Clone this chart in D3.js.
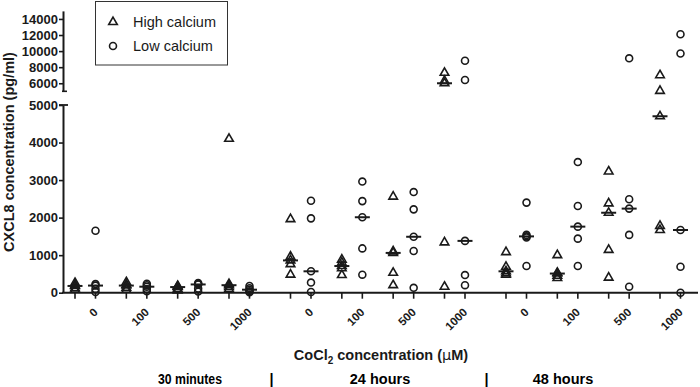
<!DOCTYPE html>
<html>
<head>
<meta charset="utf-8">
<script src="https://cdn.jsdelivr.net/npm/d3@7"></script>
<style>
  body { margin: 0; background: #fff; }
  svg { display: block; font-family: "Liberation Sans", Arial, sans-serif; }
</style>
</head>
<body>
<div id="chart"></div>
<script>
// categories
const groups = ["30 minutes", "24 hours", "48 hours"];
const concentrations = ["0", "100", "500", "1000"];
const calcium = ["High calcium", "Low calcium"];

// CXCL8 (pg/ml), one array per concentration (0, 100, 500, 1000)
const high30m = [[260, 200, 180, 120, 80], [280, 210, 190, 130, 80], [180, 160, 150, 100, 60], [4100, 230, 200, 150, 100]];
const low30m = [[1650, 230, 190, 100, 20], [240, 200, 160, 100, 40], [260, 230, 220, 110, 30], [180, 120, 80, 40, 10]];
const high24h = [[1960, 960, 860, 760, 480], [880, 800, 710, 650, 470], [2560, 1100, 1060, 530, 200], [7300, 6300, 6000, 1340, 160]];
const low24h = [[2450, 1980, 570, 270, 20], [2960, 2440, 2010, 1180, 480], [2680, 2220, 1490, 1110, 130], [8800, 6400, 1380, 470, 200]];
const high48h = [[1080, 690, 570, 520, 480], [1000, 530, 510, 450, 390], [3230, 2380, 2130, 1140, 400], [7000, 5050, 4700, 1780, 1670]];
const low48h = [[2400, 1540, 1500, 1470, 710], [3480, 2310, 1760, 1440, 710], [9100, 2490, 2240, 1540, 160], [12100, 9700, 1670, 690, 0]];

const lowerTicks = [0, 1000, 2000, 3000, 4000, 5000];
const upperTicks = [6000, 8000, 10000, 12000, 14000];

const series = {
  "30 minutes": { "High calcium": high30m, "Low calcium": low30m },
  "24 hours": { "High calcium": high24h, "Low calcium": low24h },
  "48 hours": { "High calcium": high48h, "Low calcium": low48h }
};

// flatten into columns
const columns = [];
groups.forEach(g => concentrations.forEach((c, ci) => calcium.forEach(k => {
  columns.push({ group: g, conc: c, cal: k, values: series[g][k][ci] });
})));

const width = 700;
const height = 387;
const marginLeft = 63;
const axisRight = 698;

// nested point scales for the columns
const xGroup = d3.scalePoint(groups, [75, 506]);
const xConc = d3.scalePoint(concentrations, [0, 154]);
const xCal = d3.scalePoint(calcium, [0, 20.5]);
const x = d => xGroup(d.group) + xConc(d.conc) + xCal(d.cal);

// broken y axis: two segments
const yLow = d3.scaleLinear([0, 5000], [292.7, 105]);
const yHigh = d3.scaleLinear([5000, 15000], [91.3, 10.9]);
const y = v => v > 5000 ? yHigh(v) : yLow(v);

const svg = d3.select("#chart").append("svg")
  .attr("width", width)
  .attr("height", height);

const ink = "#1a1a1a";

// y axis segments
function yAxis(scale, ticks) {
  const g = svg.append("g")
    .attr("transform", `translate(${marginLeft},0)`)
    .call(d3.axisLeft(scale).tickValues(ticks).tickSize(4).tickSizeOuter(0).tickPadding(1).tickFormat(d3.format("d")));
  g.select(".domain").attr("stroke", ink).attr("stroke-width", 2);
  g.selectAll(".tick line").attr("stroke", ink).attr("stroke-width", 1.6);
  g.selectAll(".tick text")
    .attr("fill", ink)
    .attr("font-size", 13)
    .attr("font-weight", "bold");
  return g;
}
yAxis(yLow, lowerTicks);
yAxis(yHigh, upperTicks);

// caps at the axis break
svg.append("line")
  .attr("x1", marginLeft - 4).attr("x2", marginLeft + 5)
  .attr("y1", yLow(5000)).attr("y2", yLow(5000))
  .attr("stroke", ink).attr("stroke-width", 1.8);
svg.append("line")
  .attr("x1", marginLeft - 1).attr("x2", marginLeft + 4)
  .attr("y1", yHigh(5000)).attr("y2", yHigh(5000))
  .attr("stroke", ink).attr("stroke-width", 1.6);

// x axis
svg.append("line")
  .attr("x1", marginLeft - 1).attr("x2", axisRight)
  .attr("y1", yLow(0)).attr("y2", yLow(0))
  .attr("stroke", ink).attr("stroke-width", 2);

svg.append("g")
  .selectAll("line")
  .data(columns)
  .join("line")
  .attr("x1", x).attr("x2", x)
  .attr("y1", yLow(0)).attr("y2", yLow(0) + 6)
  .attr("stroke", ink).attr("stroke-width", 1.6);

// concentration labels under each pair
svg.append("g")
  .attr("font-size", 11.5)
  .attr("font-weight", "bold")
  .attr("fill", ink)
  .attr("text-anchor", "end")
  .selectAll("text")
  .data(columns.filter(d => d.cal === "Low calcium"))
  .join("text")
  .attr("transform", d => `translate(${x(d) + 3},313) rotate(-45)`)
  .text(d => d.conc);

// points
const symTri = d3.symbol(d3.symbolTriangle, 32);
const symCirc = d3.symbol(d3.symbolCircle, 38);

const pts = svg.append("g")
  .attr("fill", "none")
  .attr("stroke", ink)
  .attr("stroke-width", 1.6);

columns.forEach(col => {
  pts.append("g")
    .selectAll("path")
    .data(col.values)
    .join("path")
    .attr("transform", v => `translate(${x(col)},${y(v)})`)
    .attr("d", col.cal === "High calcium" ? symTri : symCirc);
});

// median lines
svg.append("g")
  .selectAll("line")
  .data(columns)
  .join("line")
  .attr("x1", d => x(d) - 7.5).attr("x2", d => x(d) + 7.5)
  .attr("y1", d => y(d3.median(d.values))).attr("y2", d => y(d3.median(d.values)))
  .attr("stroke", ink).attr("stroke-width", 2);

// y title
svg.append("text")
  .attr("transform", "translate(13.5,152) rotate(-90)")
  .attr("text-anchor", "middle")
  .attr("font-size", 14.5)
  .attr("font-weight", "bold")
  .attr("fill", ink)
  .text("CXCL8 concentration (pg/ml)");

// x title
const xt = svg.append("text")
  .attr("x", 381)
  .attr("y", 360)
  .attr("text-anchor", "middle")
  .attr("font-size", 14.5)
  .attr("font-weight", "bold")
  .attr("fill", ink);
xt.append("tspan").text("CoCl");
xt.append("tspan").attr("font-size", 10).attr("dy", 4).text("2");
xt.append("tspan").attr("dy", -4).text(" concentration (");
xt.append("tspan").attr("font-family", "DejaVu Sans").attr("font-weight", "normal").text("μ");
xt.append("tspan").text("M)");

// time labels
const timeLabels = [
  { text: "30 minutes", x: 190, len: 64 },
  { text: "|", x: 271.5 },
  { text: "24 hours", x: 380 },
  { text: "|", x: 486.5 },
  { text: "48 hours", x: 563 }
];
svg.append("g")
  .attr("font-size", 14.5)
  .attr("font-weight", "bold")
  .attr("fill", "#000")
  .attr("text-anchor", "middle")
  .selectAll("text")
  .data(timeLabels)
  .join("text")
  .attr("x", d => d.x)
  .attr("y", 384)
  .each(function (d) {
    if (d.len) d3.select(this).attr("textLength", d.len).attr("lengthAdjust", "spacingAndGlyphs");
  })
  .text(d => d.text);

// legend
const legend = svg.append("g");
legend.append("rect")
  .attr("x", 95.5).attr("y", 1.5)
  .attr("width", 132).attr("height", 63.5)
  .attr("fill", "#fff")
  .attr("stroke", "#333")
  .attr("stroke-width", 1);
calcium.forEach((k, i) => {
  const row = legend.append("g").attr("transform", `translate(113,${22 + i * 24})`);
  row.append("path")
    .attr("d", i === 0 ? symTri : symCirc)
    .attr("fill", "none")
    .attr("stroke", ink)
    .attr("stroke-width", 1.6);
  row.append("text")
    .attr("x", 20)
    .attr("dy", "0.36em")
    .attr("font-size", 14.5)
    .attr("fill", ink)
    .text(k);
});
</script>
</body>
</html>
